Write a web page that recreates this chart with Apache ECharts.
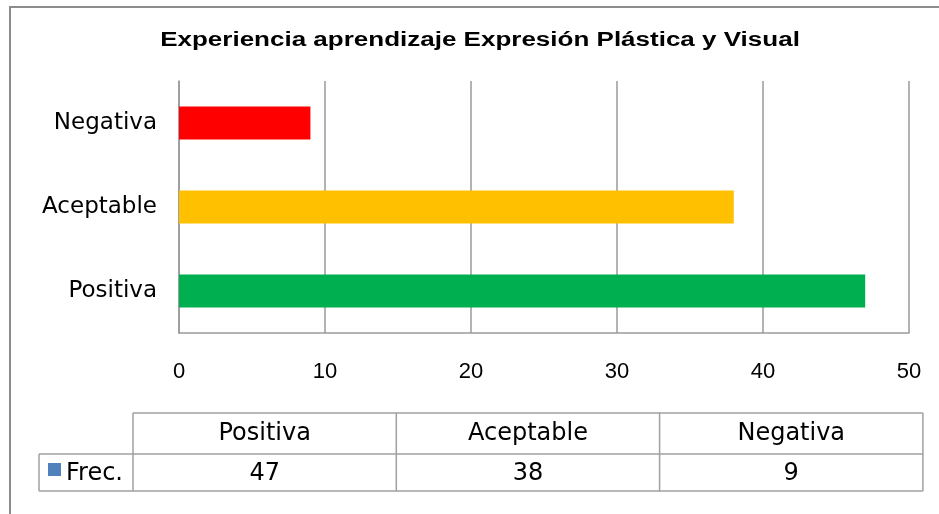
<!DOCTYPE html>
<html>
<head>
<meta charset="utf-8">
<script src="https://cdn.jsdelivr.net/npm/echarts@6/dist/echarts.min.js"></script>
<style>
  html, body { margin: 0; padding: 0; background: #fff; }
  #main { width: 939px; height: 514px; }
</style>
</head>
<body>
<div id="main"></div>
<script>
// datos del grafico
var titulo = 'Experiencia aprendizaje Expresión Plástica y Visual';
var categorias = ['Positiva', 'Aceptable', 'Negativa'];
var frecuencias = [47, 38, 9];
var colores = ['#00B050', '#FFC000', '#FF0000'];
var serieNombre = 'Frec.';
var ticks = [0, 10, 20, 30, 40, 50];

var chart = echarts.init(document.getElementById('main'));

// tabla de datos debajo del grafico
function tablaDatos() {
  var els = [];
  var x0 = 39, x1 = 133, colW = 263.3, yTop = 413, yMid = 454, yBot = 491;
  var linea = { stroke: '#A0A0A0', lineWidth: 1.5 };
  var font = '24px "DejaVu Sans", Verdana, sans-serif';
  var xEnd = x1 + colW * categorias.length;
  els.push({ type: 'line', shape: { x1: x1, y1: yTop, x2: xEnd, y2: yTop }, style: linea });
  els.push({ type: 'line', shape: { x1: x0, y1: yMid, x2: xEnd, y2: yMid }, style: linea });
  els.push({ type: 'line', shape: { x1: x0, y1: yBot, x2: xEnd, y2: yBot }, style: linea });
  els.push({ type: 'line', shape: { x1: x0, y1: yMid, x2: x0, y2: yBot }, style: linea });
  for (var i = 0; i <= categorias.length; i++) {
    var x = x1 + colW * i;
    els.push({ type: 'line', shape: { x1: x, y1: yTop, x2: x, y2: yBot }, style: linea });
  }
  categorias.forEach(function (c, i) {
    var cx = x1 + colW * i + colW / 2;
    els.push({ type: 'text', x: cx, y: (yTop + yMid) / 2,
      style: { text: c, font: font, fill: '#000', align: 'center', verticalAlign: 'middle' } });
    els.push({ type: 'text', x: cx, y: (yMid + yBot) / 2 + 1,
      style: { text: String(frecuencias[i]), font: font, fill: '#000', align: 'center', verticalAlign: 'middle' } });
  });
  els.push({ type: 'rect', shape: { x: 48, y: 463, width: 13, height: 13 }, style: { fill: '#4F81BD' } });
  els.push({ type: 'text', x: 66, y: (yMid + yBot) / 2 + 1,
    style: { text: serieNombre, font: font, fill: '#000', align: 'left', verticalAlign: 'middle' } });
  // titulo (algo ensanchado como en el original)
  els.push({ type: 'text', x: 480, y: 40, scaleX: 1.3,
    style: { text: titulo, font: 'bold 20px "Liberation Sans", Arial, sans-serif', fill: '#000',
      align: 'center', verticalAlign: 'middle' } });
  // borde exterior
  els.push({ type: 'rect', shape: { x: 10, y: 7, width: 960, height: 540 },
    style: { fill: null, stroke: '#8C8C8C', lineWidth: 2 } });
  return els;
}

var option = {
  backgroundColor: '#fff',
  animation: false,
  grid: { left: 179, right: 30, top: 81, bottom: 181 },
  xAxis: {
    type: 'value', min: ticks[0], max: ticks[ticks.length - 1], interval: 10,
    axisLine: { show: true, lineStyle: { color: '#9A9A9A', width: 1.5 } },
    axisTick: { show: false },
    splitLine: { show: true, lineStyle: { color: '#9A9A9A', width: 1.5 } },
    axisLabel: { margin: 28, fontSize: 22, color: '#000', fontFamily: '"Liberation Sans", Arial, sans-serif' }
  },
  yAxis: {
    type: 'category', data: categorias,
    axisLine: { show: true, lineStyle: { color: '#9A9A9A', width: 1.5 } },
    axisTick: { show: false },
    axisLabel: { margin: 22, fontSize: 23, color: '#000', fontFamily: '"DejaVu Sans", Verdana, sans-serif' }
  },
  series: [{
    name: serieNombre,
    type: 'bar',
    barWidth: 33,
    data: frecuencias.map(function (v, i) { return { value: v, itemStyle: { color: colores[i] } }; })
  }],
  graphic: tablaDatos()
};

chart.setOption(option);
</script>
</body>
</html>
